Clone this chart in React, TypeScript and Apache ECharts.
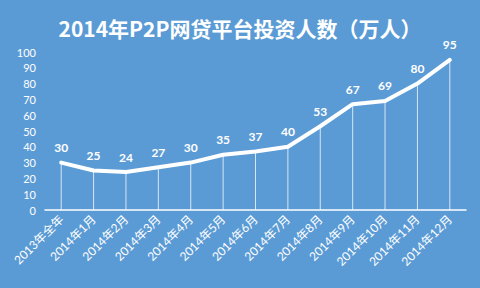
import React, { useEffect, useRef } from "react";
import * as echarts from "echarts";

const categories = [
  "2013年全年", "2014年1月", "2014年2月", "2014年3月", "2014年4月", "2014年5月",
  "2014年6月", "2014年7月", "2014年8月", "2014年9月", "2014年10月", "2014年11月", "2014年12月",
];
const investors = [30, 25, 24, 27, 30, 35, 37, 40, 53, 67, 69, 80, 95];
const titleText = "2014年P2P网贷平台投资人数（万人）";

const FONT = "Lato, 'Noto Sans CJK SC', sans-serif";

export default function App() {
  const ref = useRef<HTMLDivElement>(null);
  useEffect(() => {
    document.body.style.margin = "0";
    const chart = echarts.init(ref.current!, null, { renderer: "svg" });
    chart.setOption({
      animation: false,
      backgroundColor: "#5b9bd5",
      title: {
        text: titleText,
        left: "center",
        top: 12,
        textStyle: { color: "#ffffff", fontSize: 21, fontWeight: "bold", fontFamily: "'Noto Sans CJK SC', sans-serif" },
      },
      grid: { left: 45, right: 14, top: 52, bottom: 78 },
      xAxis: {
        type: "category",
        data: categories,
        boundaryGap: true,
        axisLine: { lineStyle: { color: "#ffffff", width: 1.5 } },
        axisTick: { show: false },
        axisLabel: {
          color: "#ffffff",
          rotate: 45,
          fontSize: 12,
          fontFamily: FONT,
          margin: 7,
          interval: 0,
        },
      },
      yAxis: {
        type: "value",
        min: 0,
        max: 100,
        interval: 10,
        axisLine: { show: false },
        axisTick: { show: false },
        splitLine: { show: false },
        axisLabel: { color: "#ffffff", fontSize: 11, fontFamily: FONT, margin: 9 },
      },
      series: [
        {
          type: "bar",
          data: investors,
          barWidth: 1,
          itemStyle: { color: "rgba(255,255,255,0.75)" },
          silent: true,
        },
        {
          type: "line",
          data: investors,
          showSymbol: true,
          symbol: "circle",
          symbolSize: 0,
          itemStyle: { color: "#ffffff" },
          lineStyle: { color: "#ffffff", width: 4, cap: "round", join: "round" },
          label: {
            show: true,
            position: "top",
            distance: 9,
            color: "#ffffff",
            fontSize: 12,
            fontWeight: "bold",
            fontFamily: FONT,
          },
        },
      ],
    });
    return () => chart.dispose();
  }, []);
  return <div ref={ref} style={{ width: 480, height: 288 }} />;
}
